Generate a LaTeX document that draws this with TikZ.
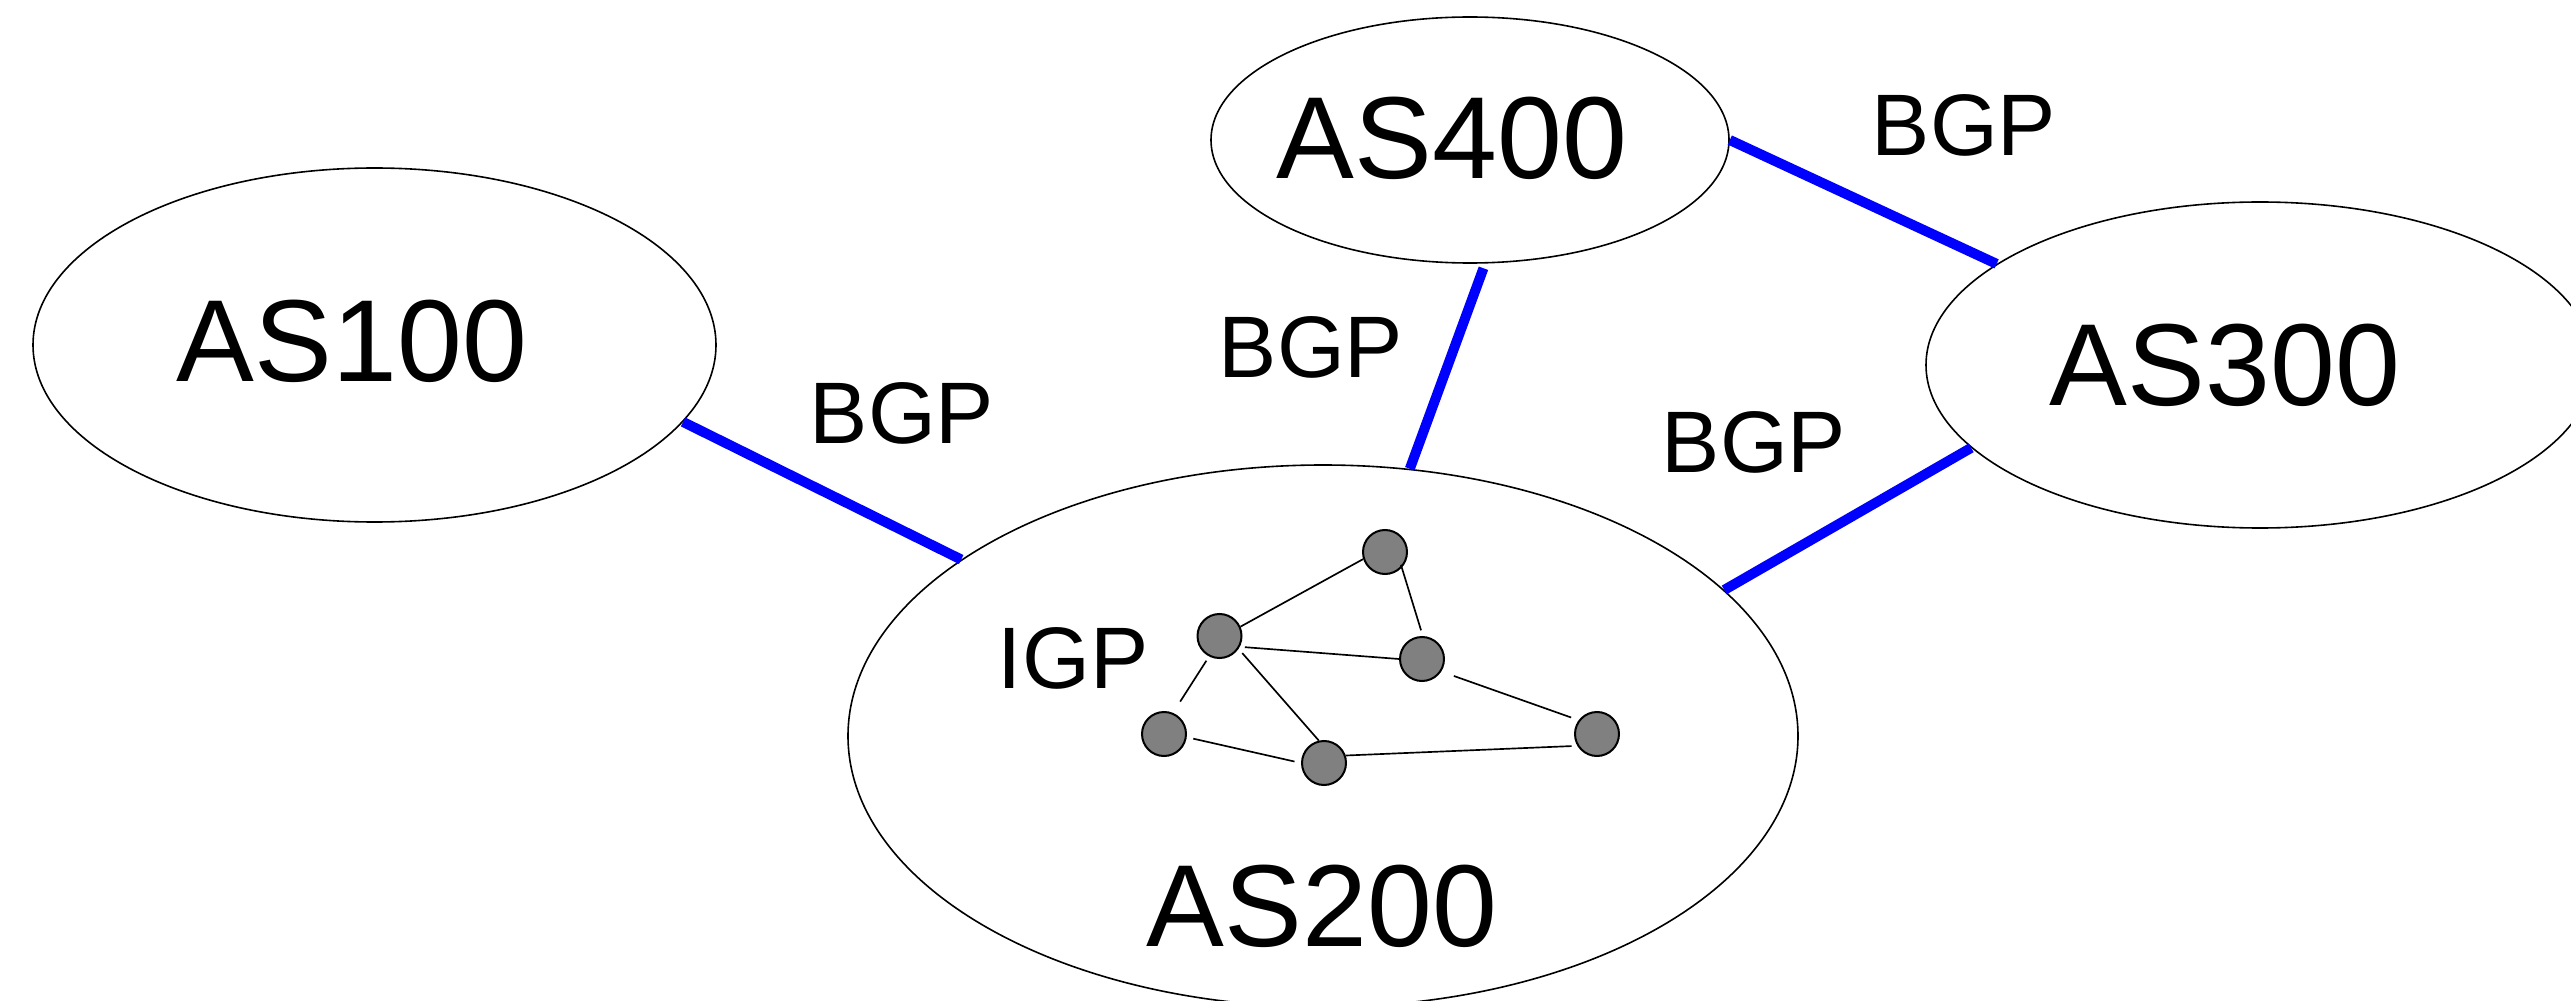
\documentclass[tikz,border=0pt]{standalone}
\usepackage{fontspec}
\setmainfont{Liberation Sans}
\usetikzlibrary{shapes.geometric}
\begin{document}
\begin{tikzpicture}[x=0.3pt,y=-0.3pt,
  asbox/.style={draw,ellipse,line width=0.48pt,inner sep=0pt},
  asname/.style={inner sep=0pt,font=\fontsize{35}{40}\selectfont},
  proto/.style={inner sep=0pt,font=\fontsize{26.2}{30}\selectfont},
  router/.style={draw,circle,fill=black!50,line width=0.6pt,inner sep=0pt,minimum size=13.2pt},
  igplink/.style={line width=0.5pt},
  bgplink/.style={line width=3pt,draw={rgb,255:red,0;green,0;blue,255}}]
\useasboundingbox (0,0) rectangle (2571,1001);
\clip (0,0) rectangle (2571,1001);

% autonomous systems
\node[asbox,minimum width=204.9pt,minimum height=106.2pt] (as100) at (374.5,345) {};
\node[asbox,minimum width=155.4pt,minimum height=73.8pt] (as400) at (1470,140) {};
\node[asbox,minimum width=200.4pt,minimum height=97.8pt] (as300) at (2260,365) {};
\node[asbox,minimum width=285pt,minimum height=162.6pt] (as200) at (1323,736) {};

\node[asname] (t100) at (352,341) {AS100};
\node[asname] (t400) at (1452,138) {AS400};
\node[asname] (t300) at (2225,365) {AS300};
\node[asname] (t200) at (1322,906) {AS200};

% BGP sessions between the systems
\draw[bgplink] (as100.-14.3) -- (as200.154.4);
\draw[bgplink,shorten <=1.5pt] (as400.-83.8) -- (as200.72.3);
\draw[bgplink] (as400.0) -- (as300.159.4);
\draw[bgplink] (as300.-164.1) -- (as200.20.5);

\node[proto] (b1) at (902,413) {BGP};
\node[proto] (b2) at (1311,347) {BGP};
\node[proto] (b3) at (1964,125) {BGP};
\node[proto] (b4) at (1754,442) {BGP};

% interior routers of AS200
\node[proto] (igp) at (1073,658) {IGP};
\node[router] (r1) at (1385,552) {};
\node[router] (r2) at (1219.5,636) {};
\node[router] (r3) at (1422,659) {};
\node[router] (r4) at (1164,734) {};
\node[router] (r5) at (1324,763) {};
\node[router] (r6) at (1597,734) {};

\draw[igplink] (r2.24) -- (r1.198);
\draw[igplink,shorten <=-0.9pt,shorten >=1.8pt] (r1.-43) -- (r3.88);
\draw[igplink,shorten <=1.5pt] (r2.-28.6) -- (r3.180);
\draw[igplink,shorten <=1.5pt,shorten >=4pt] (r2.-117.7) -- (r4.67.9);
\draw[igplink,shorten <=1.7pt] (r2.-34.3) -- (r5.103.9);
\draw[igplink,shorten <=2pt,shorten >=2pt] (r4.-8.6) -- (r5.180);
\draw[igplink,shorten <=4pt,shorten >=2.4pt] (r3.-33.9) -- (r6.143);
\draw[igplink,shorten >=1.7pt] (r5.19.5) -- (r6.211);
\end{tikzpicture}
\end{document}
